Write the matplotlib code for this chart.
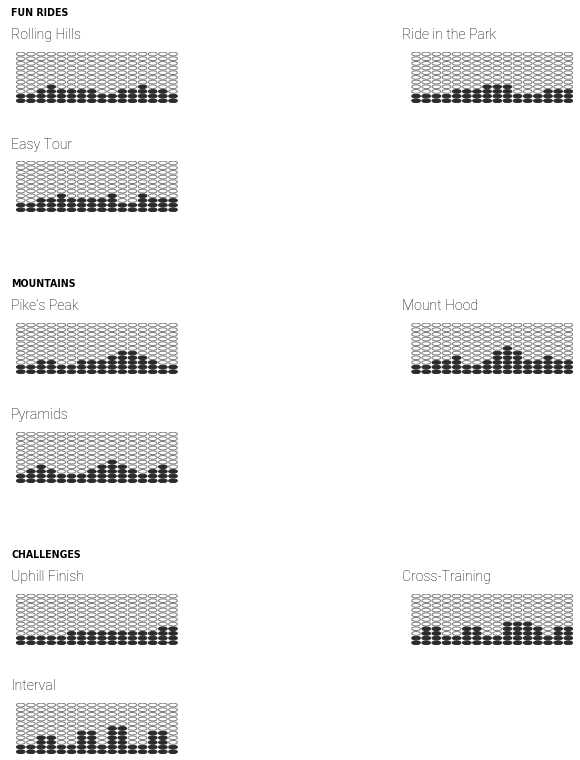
import matplotlib
matplotlib.use("Agg")
import matplotlib.pyplot as plt
from matplotlib.patches import Ellipse

# PROGRAM PROFILES (LEVEL PER SEGMENT, 16 SEGMENTS, 11 LEVELS SHOWN)
rolling_hills = [2, 2, 3, 4, 3, 3, 3, 3, 2, 2, 3, 3, 4, 3, 3, 2]
ride_in_the_park = [2, 2, 2, 2, 3, 3, 3, 4, 4, 4, 2, 2, 2, 3, 3, 3]
easy_tour = [2, 2, 3, 3, 4, 3, 3, 3, 3, 4, 2, 2, 4, 3, 3, 3]
pikes_peak = [2, 2, 3, 3, 2, 2, 3, 3, 3, 4, 5, 5, 4, 3, 2, 2]
mount_hood = [2, 2, 3, 3, 4, 2, 2, 3, 5, 6, 5, 3, 3, 4, 3, 3]
pyramids = [2, 3, 4, 3, 2, 2, 2, 3, 4, 5, 4, 3, 2, 3, 4, 3]
uphill_finish = [2, 2, 2, 2, 2, 3, 3, 3, 3, 3, 3, 3, 3, 3, 4, 4]
cross_training = [2, 4, 4, 2, 2, 4, 4, 2, 2, 5, 5, 5, 4, 2, 4, 4]
interval = [2, 2, 4, 4, 2, 2, 5, 5, 2, 6, 6, 2, 2, 5, 5, 2]

N_LEVELS = 11

sections = ["FUN RIDES", "MOUNTAINS", "CHALLENGES"]
# (section index, slot, title, values); slot 0 = top left, 1 = top right, 2 = bottom left
charts = [
    (0, 0, "Rolling Hills", rolling_hills),
    (0, 1, "Ride in the Park", ride_in_the_park),
    (0, 2, "Easy Tour", easy_tour),
    (1, 0, "Pike\u2019s Peak", pikes_peak),
    (1, 1, "Mount Hood", mount_hood),
    (1, 2, "Pyramids", pyramids),
    (2, 0, "Uphill Finish", uphill_finish),
    (2, 1, "Cross-Training", cross_training),
    (2, 2, "Interval", interval),
]

W, H = 580, 760
DARK = "#2b2b2b"
EDGE = "#7a7a7a"

fig = plt.figure(figsize=(W / 100, H / 100), dpi=100)
fig.patch.set_facecolor("white")


def px_axes(x0, y0, w, h):
    return fig.add_axes([x0 / W, 1 - (y0 + h) / H, w / W, h / H])


def draw_profile(ax, values):
    for i, v in enumerate(values):
        for lvl in range(N_LEVELS):
            filled = lvl < v
            ax.add_patch(Ellipse((i, lvl), 0.86, 0.8,
                                 facecolor=DARK if filled else "white",
                                 edgecolor=DARK if filled else EDGE,
                                 linewidth=0.7))
    ax.set_xlim(-0.5, len(values) - 0.5)
    ax.set_ylim(-0.5, N_LEVELS - 0.5)
    ax.axis("off")


SEC_STEP = 271
for s, name in enumerate(sections):
    fig.text(11 / W, 1 - (16 + s * SEC_STEP) / H, name, fontsize=7.6,
             fontweight="bold", fontstretch="condensed", family="DejaVu Sans",
             color="#000000", va="baseline", ha="left")

for s, slot, title, vals in charts:
    base = s * SEC_STEP
    if slot == 0:
        tx, ty, gx, gy = 11, base + 39, 15.7, base + 51.7
    elif slot == 1:
        tx, ty, gx, gy = 402, base + 39, 411.0, base + 51.7
    else:
        tx, ty, gx, gy = 11, base + 148.5, 15.7, base + 160.7
    fig.text(tx / W, 1 - ty / H, title, fontsize=10.2, family="Roboto",
             fontweight="light", color="#000000", va="baseline", ha="left")
    ax = px_axes(gx, gy, 162.4, 51.4)
    draw_profile(ax, vals)

fig.savefig("out.png", dpi=100, facecolor="white")
